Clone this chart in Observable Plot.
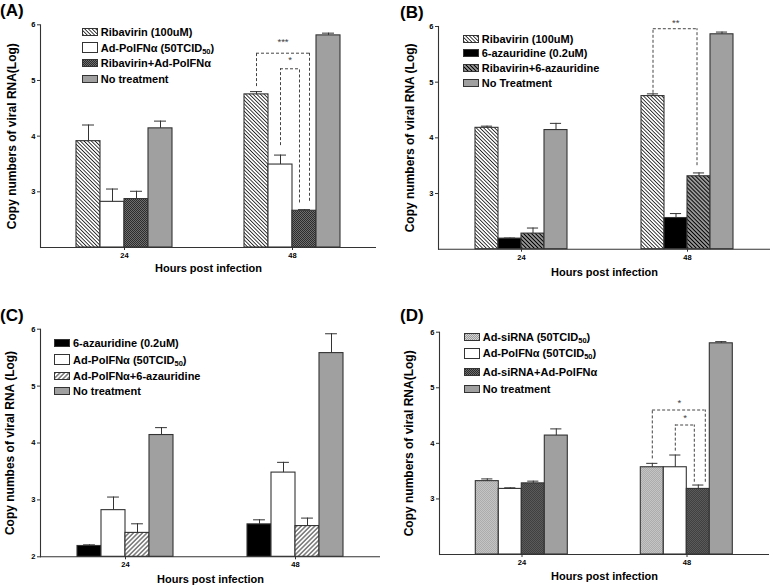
<!DOCTYPE html>
<html><head><meta charset="utf-8">
<script src="https://cdn.jsdelivr.net/npm/d3@7"></script>
<script src="https://cdn.jsdelivr.net/npm/@observablehq/plot@0.6"></script>
<style>
body{margin:0;background:#fff;font-family:"Liberation Sans",Arial,sans-serif;}
#fig{position:relative;width:774px;height:586px;overflow:hidden;background:#fff;}
.panel{position:absolute;width:387px;height:293px;}
.plab{position:absolute;font-weight:bold;font-size:17px;line-height:17px;color:#000;}
.row{position:absolute;white-space:nowrap;display:flex;align-items:center;height:14px;font-weight:bold;font-size:11px;color:#000;}
.row svg{margin-right:3px;flex:none}
sub{font-size:7.5px;vertical-align:-2px;line-height:0}
</style></head><body>
<svg width="0" height="0" style="position:absolute">
<defs>
<pattern id="pRib" patternUnits="userSpaceOnUse" width="2.6" height="2.6" patternTransform="rotate(-45)"><rect width="2.6" height="2.6" fill="#fff"/><line x1="1.3" y1="0" x2="1.3" y2="2.6" stroke="#1a1a1a" stroke-width="0.85"/></pattern>
<pattern id="pRibAza" patternUnits="userSpaceOnUse" width="2.8" height="2.8" patternTransform="rotate(-45)"><rect width="2.8" height="2.8" fill="#fff"/><line x1="1.4" y1="0" x2="1.4" y2="2.8" stroke="#000" stroke-width="1.7"/></pattern>
<pattern id="pFwd" patternUnits="userSpaceOnUse" width="3.2" height="3.2" patternTransform="rotate(45)"><rect width="3.2" height="3.2" fill="#fff"/><line x1="1.6" y1="0" x2="1.6" y2="3.2" stroke="#1a1a1a" stroke-width="0.9"/></pattern>
<pattern id="pDark" patternUnits="userSpaceOnUse" width="2" height="2"><rect width="2" height="2" fill="#6e6e6e"/><rect width="1" height="1" fill="#2c2c2c"/><rect x="1" y="1" width="1" height="1" fill="#2c2c2c"/></pattern>
<pattern id="pLight" patternUnits="userSpaceOnUse" width="2" height="2"><rect width="2" height="2" fill="#d6d6d6"/><rect width="1" height="1" fill="#9a9a9a"/><rect x="1" y="1" width="1" height="1" fill="#9a9a9a"/></pattern>
</defs></svg>
<div id="fig"></div>
<script>
// ---------- data ----------
const hours = ["24", "48"];

const seriesA = ["Ribavirin (100uM)", "Ad-PolFNα (50TCID50)", "Ribavirin+Ad-PolFNα", "No treatment"];
const meanA24 = [3.91, 2.82, 2.87, 4.14];
const errA24  = [0.29, 0.23, 0.14, 0.13];
const meanA48 = [4.75, 3.49, 2.66, 5.81];
const errA48  = [0.05, 0.17, 0.02, 0.04];

const seriesB = ["Ribavirin (100uM)", "6-azauridine (0.2uM)", "Ribavirin+6-azauridine", "No Treatment"];
const meanB24 = [4.18, 2.19, 2.28, 4.14];
const errB24  = [0.03, 0.01, 0.10, 0.12];
const meanB48 = [4.75, 2.56, 3.31, 5.86];
const errB48  = [0.04, 0.08, 0.06, 0.04];

const seriesC = ["6-azauridine (0.2uM)", "Ad-PolFNα (50TCID50)", "Ad-PolFNα+6-azauridine", "No treatment"];
const meanC24 = [2.19, 2.82, 2.42, 4.14];
const errC24  = [0.02, 0.23, 0.16, 0.13];
const meanC48 = [2.57, 3.48, 2.54, 5.58];
const errC48  = [0.08, 0.18, 0.14, 0.34];

const seriesD = ["Ad-siRNA (50TCID50)", "Ad-PolFNα (50TCID50)", "Ad-siRNA+Ad-PolFNα", "No treatment"];
const meanD24 = [3.32, 3.18, 3.28, 4.14];
const errD24  = [0.04, 0.02, 0.04, 0.12];
const meanD48 = [3.57, 3.57, 3.18, 5.80];
const errD48  = [0.07, 0.22, 0.07, 0.03];

// significance brackets: hour, from-series, to-series, leg ends, top, stars
const bracketsA = [
  {hour: "48", from: seriesA[0], to: seriesA[2], low1: 4.89, low2: 2.83, top: 5.49, stars: "***", starY: 5.70},
  {hour: "48", from: seriesA[1], to: seriesA[2], low1: 3.83, low2: 2.80, top: 5.21, stars: "*", starY: 5.36}
];
const bracketsB = [
  {hour: "48", from: seriesB[0], to: seriesB[2], low1: 4.80, low2: 3.50, top: 5.96, stars: "**", starY: 6.06}
];
const bracketsD = [
  {hour: "48", from: seriesD[0], to: seriesD[2], low1: 3.72, low2: 3.30, top: 4.60, stars: "*", starY: 4.72},
  {hour: "48", from: seriesD[1], to: seriesD[2], low1: 3.86, low2: 3.30, top: 4.33, stars: "*", starY: 4.45}
];

const yTicksA = [3, 4, 5, 6];
const yTicksC = [2, 3, 4, 5, 6];

// ---------- panel configs (layout / style) ----------
const panels = [
  {tag: "(A)", tagX: 0, tagY: 2, left: 0, top: 0, mL: 40, mR: 11, mT: 24.3, mB: 46,
   series: seriesA, means: [meanA24, meanA48], errs: [errA24, errA48],
   fills: ["url(#pRib)", "#fff", "url(#pDark)", "#a0a0a0"], brackets: bracketsA, shifts: [5, -5],
   yTicks: yTicksA, yLabel: "Copy numbers of viral RNA(Log)", yLabelOffset: 33.5, xLabelOffset: 24,
   legX: 81.7, legY: [32.3, 47.7, 63.3, 79]},
  {tag: "(B)", tagX: 400, tagY: 4, left: 387, top: 0, mL: 51, mR: 4, mT: 26, mB: 44.3,
   series: seriesB, means: [meanB24, meanB48], errs: [errB24, errB48],
   fills: ["url(#pRib)", "#000", "url(#pRibAza)", "#a0a0a0"], brackets: bracketsB, shifts: [-2],
   yTicks: yTicksA, yLabel: "Copy numbers of viral RNA (Log)", yLabelOffset: 33, xLabelOffset: 26.5,
   legX: 462.7, legY: [39.3, 53.3, 68.3, 82.7]},
  {tag: "(C)", tagX: 0, tagY: 307, left: 0, top: 293, mL: 40, mR: 7, mT: 35.7, mB: 29.7,
   series: seriesC, means: [meanC24, meanC48], errs: [errC24, errC48],
   fills: ["#000", "#fff", "url(#pFwd)", "#a0a0a0"], brackets: [], shifts: [],
   yTicks: yTicksC, yLabel: "Copy numbes of viral RNA (Log)", yLabelOffset: 35.4, xLabelOffset: 26,
   legX: 54, legY: [343, 359.7, 375.7, 390.7]},
  {tag: "(D)", tagX: 400, tagY: 307, left: 387, top: 293, mL: 51.7, mR: 4, mT: 38.7, mB: 32,
   series: seriesD, means: [meanD24, meanD48], errs: [errD24, errD48],
   fills: ["url(#pLight)", "#fff", "url(#pDark)", "#a0a0a0"], brackets: bracketsD, shifts: [7, -4],
   yTicks: yTicksA, yLabel: "Copy numbers of viral RNA(Log)", yLabelOffset: 35.4, xLabelOffset: 25,
   legX: 463.7, legY: [337, 353.3, 372, 389.3]}
];

const ink = "#333";
const fig = document.getElementById("fig");

function buildPanel(cfg) {
  const W = 387, H = 293;
  const rows = hours.flatMap((h, hi) => cfg.series.map((s, i) => ({hour: h, series: s, mean: cfg.means[hi][i], err: cfg.errs[hi][i]})));
  const bw = (W - cfg.mL - cfg.mR) / 2 / 7;
  const idx = s => cfg.series.indexOf(s);
  const dash = {stroke: "#444", strokeWidth: 1, strokeDasharray: "3,2"};
  const bracketMarks = cfg.brackets.flatMap((b, i) => {
    const sh = cfg.shifts[i];
    return [
      Plot.ruleX([b], {fx: "hour", x: "from", y1: "low1", y2: "top", ...dash}),
      Plot.ruleX([b], {fx: "hour", x: "to", y1: "low2", y2: "top", dx: sh, ...dash}),
      Plot.ruleY([b], {fx: "hour", x1: "from", x2: "to", y: "top", insetLeft: bw / 2, insetRight: bw / 2 - sh, ...dash}),
      Plot.text([b], {fx: "hour", x: "from", y: "starY", text: "stars", dx: ((idx(b.to) - idx(b.from)) * bw + sh) / 2,
        fontSize: 9.5, fill: "#444", lineAnchor: "middle"})
    ];
  });
  const svg = Plot.plot({
    width: W, height: H,
    marginLeft: cfg.mL, marginRight: cfg.mR, marginTop: cfg.mT, marginBottom: cfg.mB,
    style: {fontFamily: "Liberation Sans, Arial, sans-serif", background: "transparent", color: "#000", overflow: "visible"},
    fx: {domain: hours, padding: 0},
    x: {domain: cfg.series, paddingInner: 0, paddingOuter: 1.5, axis: null},
    y: {domain: [2, 6]},
    color: {type: "ordinal", domain: cfg.series, range: cfg.fills},
    marks: [
      Plot.barY(rows, {fx: "hour", x: "series", y1: 2, y2: "mean", fill: "series", stroke: ink, strokeWidth: 1.1}),
      Plot.ruleX(rows, {fx: "hour", x: "series", y1: "mean", y2: d => d.mean + d.err, stroke: ink, strokeWidth: 1}),
      Plot.tickY(rows, {fx: "hour", x: "series", y: d => d.mean + d.err, stroke: ink, strokeWidth: 1, insetLeft: bw / 4, insetRight: bw / 4}),
      Plot.ruleY([2], {stroke: ink, strokeWidth: 1.1}),
      Plot.frame({anchor: "left", facetAnchor: "left", stroke: ink, strokeWidth: 1.1}),
      Plot.axisY({ticks: cfg.yTicks, tickFormat: d3.format("d"), tickSize: 3, tickPadding: 2, fontSize: 7.5, fontWeight: "bold", label: null, stroke: ink}),
      Plot.axisY({ticks: [], label: cfg.yLabel, labelArrow: "none", labelAnchor: "center", labelOffset: cfg.yLabelOffset, fontSize: 12, fontWeight: "bold", tickSize: 0}),
      Plot.axisFx({anchor: "bottom", tickSize: 3, tickPadding: 2, fontSize: 7.5, fontWeight: "bold", label: null, stroke: ink}),
      Plot.axisFx({anchor: "bottom", ticks: [], label: "Hours post infection", labelArrow: "none", labelAnchor: "center", labelOffset: cfg.xLabelOffset, fontSize: 11, fontWeight: "bold", tickSize: 0}),
      ...bracketMarks
    ]
  });
  const div = document.createElement("div");
  div.className = "panel";
  div.style.left = cfg.left + "px";
  div.style.top = cfg.top + "px";
  div.append(svg);
  fig.append(div);

  // panel tag
  const tag = document.createElement("div");
  tag.className = "plab";
  tag.style.left = cfg.tagX + "px";
  tag.style.top = cfg.tagY + "px";
  tag.textContent = cfg.tag;
  fig.append(tag);

  // legend
  cfg.series.forEach((s, i) => {
    const row = document.createElement("div");
    row.className = "row";
    row.style.left = cfg.legX + "px";
    row.style.top = (cfg.legY[i] - 7) + "px";
    const tall = cfg.fills[i] === "#fff";
    const h = tall ? 10 : 7;
    const ns = "http://www.w3.org/2000/svg";
    const sw = document.createElementNS(ns, "svg");
    sw.setAttribute("width", 16); sw.setAttribute("height", h + 1);
    const r = document.createElementNS(ns, "rect");
    r.setAttribute("x", 0.5); r.setAttribute("y", 0.5);
    r.setAttribute("width", 15); r.setAttribute("height", h);
    r.setAttribute("fill", cfg.fills[i]); r.setAttribute("stroke", ink); r.setAttribute("stroke-width", 1);
    sw.append(r);
    row.append(sw);
    const t = document.createElement("span");
    t.innerHTML = s.replace("TCID50", "TCID<sub>50</sub>");
    row.append(t);
    fig.append(row);
  });
}

panels.forEach(buildPanel);
</script>
</body></html>
